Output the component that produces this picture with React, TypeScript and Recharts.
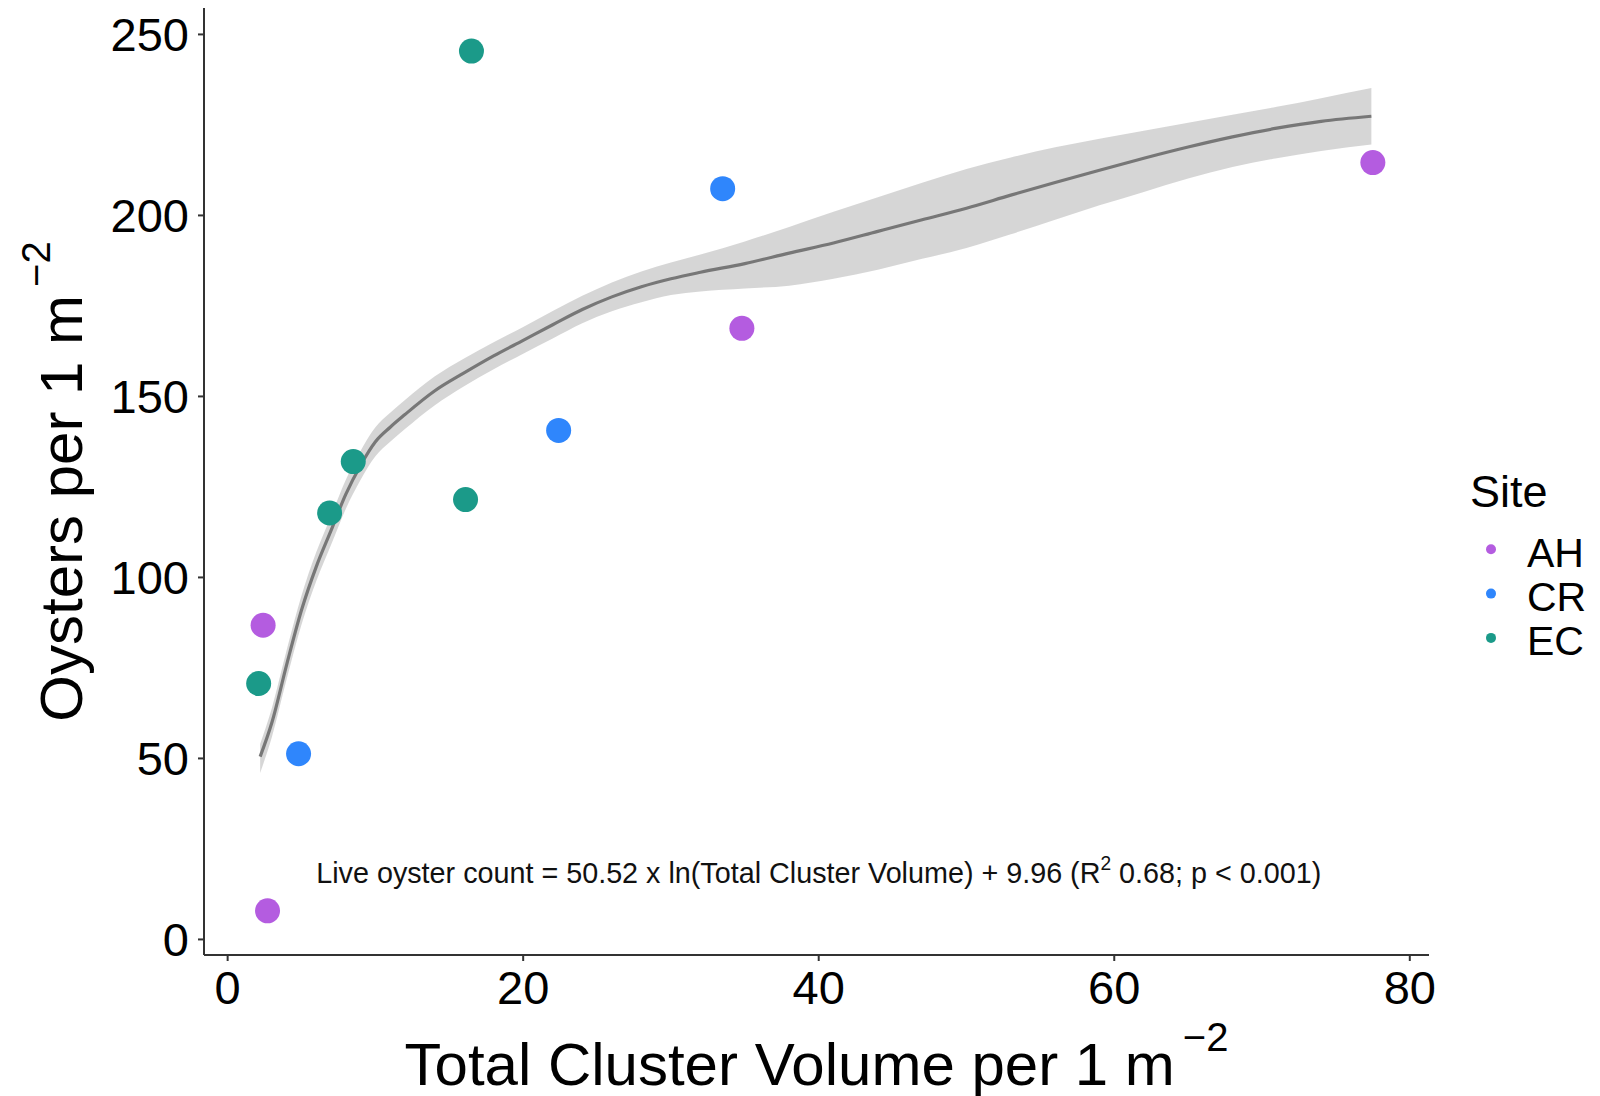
import React from 'react';
import {
  ComposedChart,
  Area,
  Line,
  Scatter,
  XAxis,
  YAxis,
  ReferenceDot,
} from 'recharts';

// Sites and their point colours
const sites = ['AH', 'CR', 'EC'];
const siteColors = ['#b45ce0', '#2f86fc', '#1b9a89'];

// Observations (total cluster volume vs oysters per m^2)
const ahVolume = [2.7, 2.4, 34.8, 77.5];
const ahOysters = [7.9, 86.8, 168.8, 214.6];
const crVolume = [4.8, 22.4, 33.5];
const crOysters = [51.3, 140.6, 207.4];
const ecVolume = [2.1, 6.9, 8.5, 16.1, 16.5];
const ecOysters = [70.7, 117.8, 132, 121.5, 245.4];

// Smoothed fit and its confidence band
const smoothVolume = [2.2, 3, 4, 5, 6, 7, 8, 9, 10, 11, 12, 14, 16, 18, 20, 22, 24, 26, 28, 30, 32, 35, 38, 41, 44, 47, 50, 53, 56, 59, 62, 65, 68, 71, 74, 77.4];
const smoothFit = [50.5, 60, 76, 91, 103, 113, 123, 131, 137.5, 141.5, 145, 151.5, 156.5, 161.2, 165.5, 169.8, 174, 177.5, 180.3, 182.5, 184.3, 186.7, 189.6, 192.4, 195.6, 198.8, 202, 205.6, 209.1, 212.5, 215.8, 218.9, 221.7, 224.1, 226, 227.4];
const smoothLower = [46, 56, 72, 87, 99, 109, 119, 127, 133.5, 137.5, 141, 147.5, 152.8, 157.5, 161.8, 166, 170.2, 173.5, 176, 178, 179, 179.8, 180.6, 182.5, 185, 188, 191, 194.8, 198.8, 202.8, 206.5, 210.2, 213.4, 215.8, 217.8, 219.6];
const smoothUpper = [54, 64, 80, 95, 107, 117, 127, 135, 141.5, 145.5, 149, 155.5, 160.5, 165, 169.2, 173.6, 177.8, 181.5, 184.5, 187, 189.2, 192.8, 196.8, 201, 205, 209, 212.8, 216, 218.8, 221.2, 223.4, 225.6, 227.8, 230, 232.4, 235.2];

const xTicks = [0, 20, 40, 60, 80];
const yTicks = [0, 50, 100, 150, 200, 250];

const FONT = '"Liberation Sans", Arial, sans-serif';

const toPoints = (xs: number[], ys: number[]) => xs.map((x, i) => ({ x, y: ys[i] }));
const siteData = [
  toPoints(ahVolume, ahOysters),
  toPoints(crVolume, crOysters),
  toPoints(ecVolume, ecOysters),
];

const smoothData = smoothVolume.map((x, i) => ({
  x,
  fit: smoothFit[i],
  band: [smoothLower[i], smoothUpper[i]],
}));

const XTitle = (props: any) => {
  const vb = props.viewBox;
  return (
    <text x={vb.x + vb.width / 2} y={vb.y + 130} textAnchor="middle" fontFamily={FONT} fontSize={60} fill="#000">
      Total Cluster Volume per 1 m
      <tspan dx={8} dy={-34} fontSize={40}>−2</tspan>
    </text>
  );
};

const YTitle = (props: any) => {
  const vb = props.viewBox;
  const cx = 82;
  const cy = vb.y + vb.height / 2;
  return (
    <text x={cx} y={cy} transform={`rotate(-90 ${cx} ${cy})`} textAnchor="middle" fontFamily={FONT} fontSize={60} fill="#000">
      Oysters per 1 m
      <tspan dx={8} dy={-32} fontSize={40}>−2</tspan>
    </text>
  );
};

const Annotation = (props: any) => {
  const vb = props.viewBox;
  const cx = vb.x + vb.width / 2;
  const cy = vb.y + vb.height / 2;
  return (
    <text x={cx} y={cy} textAnchor="middle" fontFamily={FONT} fontSize={30} fill="#111" textLength={1005} lengthAdjust="spacingAndGlyphs">
      Live oyster count = 50.52 x ln(Total Cluster Volume) + 9.96 (R
      <tspan dy={-13} fontSize={20}>2</tspan>
      <tspan dy={13}> 0.68; p &lt; 0.001)</tspan>
    </text>
  );
};

const SiteLegend = () => (
  <svg width={140} height={220} style={{ position: 'absolute', left: 1460, top: 460 }}>
    <text x={10} y={47} fontFamily={FONT} fontSize={45} fill="#000">Site</text>
    {sites.map((s, i) => (
      <g key={s}>
        <circle cx={31} cy={89.3 + i * 44.3} r={5} fill={siteColors[i]} />
        <text x={67} y={106.7 + i * 44.3} fontFamily={FONT} fontSize={41} fill="#000">{s}</text>
      </g>
    ))}
  </svg>
);

export default function App() {
  return (
    <div style={{ position: 'absolute', left: 0, top: 0, width: 1600, height: 1096, background: '#fff' }}>
      <ComposedChart
        width={1600}
        height={1096}
        data={smoothData}
        margin={{ top: 8, right: 171, bottom: 0, left: 0 }}
      >
        <XAxis
          type="number"
          dataKey="x"
          domain={[-1.6, 81.3]}
          ticks={xTicks}
          allowDataOverflow
          height={141}
          tickSize={6}
          tickMargin={10}
          stroke="#333"
          strokeWidth={2}
          tick={{ fill: '#000', fontSize: 47, fontFamily: FONT }}
          label={<XTitle />}
        />
        <YAxis
          type="number"
          dataKey="y"
          domain={[-4.3, 257.3]}
          ticks={yTicks}
          allowDataOverflow
          width={204}
          tickSize={6}
          tickMargin={9}
          stroke="#333"
          strokeWidth={2}
          tick={{ fill: '#000', fontSize: 47, fontFamily: FONT }}
          label={<YTitle />}
        />
        {sites.map((s, i) => (
          <Scatter
            key={s}
            name={s}
            data={siteData[i]}
            isAnimationActive={false}
            shape={(p: any) => <circle cx={p.cx} cy={p.cy} r={12.5} fill={siteColors[i]} />}
          />
        ))}
        <Area
          type="monotone"
          dataKey="band"
          stroke="none"
          fill="#999999"
          fillOpacity={0.4}
          isAnimationActive={false}
        />
        <Line
          type="monotone"
          dataKey="fit"
          stroke="#777777"
          strokeWidth={3.2}
          dot={false}
          isAnimationActive={false}
        />
        <ReferenceDot x={40} y={15.5} r={0} fill="none" stroke="none" label={<Annotation />} />
      </ComposedChart>
      <SiteLegend />
    </div>
  );
}
